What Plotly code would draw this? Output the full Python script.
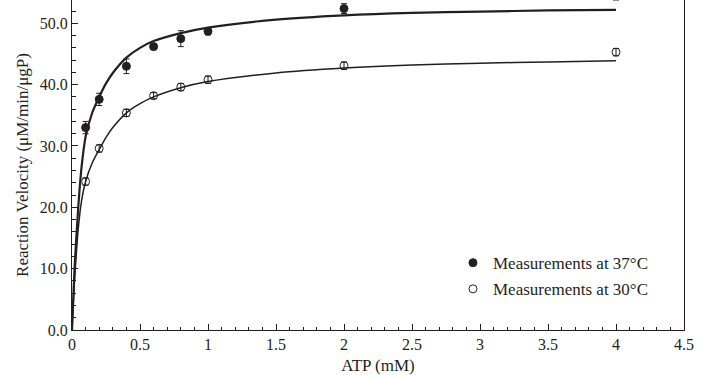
import plotly.graph_objects as go

# Measured points (ATP mM) and reaction velocity
atp_points = [0.1, 0.2, 0.4, 0.6, 0.8, 1.0, 2.0, 4.0]
v37 = [33.0, 37.6, 43.0, 46.2, 47.5, 48.7, 52.4, 54.6]
v37_err = [1.0, 1.0, 1.2, 0.5, 1.3, 0.6, 0.8, 0.8]
v30 = [24.2, 29.6, 35.4, 38.2, 39.6, 40.8, 43.1, 45.3]
v30_err = [0.6, 0.6, 0.6, 0.5, 0.6, 0.6, 0.6, 0.6]

# Fitted curves
fit_atp = [0, 0.02, 0.046, 0.07, 0.1, 0.15, 0.2, 0.25, 0.3, 0.4, 0.5, 0.6, 0.8, 1.0, 1.5, 2.0, 2.5, 3.0, 3.5, 4.0]
fit37 = [0, 10.5, 20.0, 26.5, 31.5, 35.5, 38.0, 40.2, 41.9, 44.4, 46.0, 47.1, 48.4, 49.3, 50.6, 51.3, 51.7, 51.9, 52.1, 52.2]
fit30 = [0, 8.5, 16.5, 21.0, 24.2, 27.3, 29.4, 31.4, 33.0, 35.4, 36.9, 38.0, 39.5, 40.5, 41.9, 42.7, 43.2, 43.5, 43.7, 43.9]

x_ticks = [0, 0.5, 1, 1.5, 2, 2.5, 3, 3.5, 4, 4.5]
y_ticks = [0, 10, 20, 30, 40, 50]

FONT = "Liberation Serif"
INK = "#231f20"

fig = go.Figure()
fig.add_trace(go.Scatter(x=fit_atp, y=fit37, mode="lines", line=dict(color=INK, width=2.2, shape="spline", smoothing=0.8),
                         showlegend=False, hoverinfo="skip"))
fig.add_trace(go.Scatter(x=fit_atp, y=fit30, mode="lines", line=dict(color=INK, width=1.5, shape="spline", smoothing=0.8),
                         showlegend=False, hoverinfo="skip"))
fig.add_trace(go.Scatter(x=atp_points, y=v37, mode="markers", name="Measurements at 37°C", legendgroup="a",
                         marker=dict(symbol="circle", size=8, color=INK, line=dict(color=INK, width=1)),
                         error_y=dict(type="data", array=v37_err, color=INK, thickness=1, width=3)))
fig.add_trace(go.Scatter(x=atp_points, y=v30, mode="markers", name="Measurements at 30°C", legendgroup="b",
                         marker=dict(symbol="circle-open", size=8, color=INK, line=dict(color=INK, width=1)),
                         error_y=dict(type="data", array=v30_err, color=INK, thickness=1, width=3)))

axis_common = dict(showgrid=False, zeroline=False, showline=True, linecolor=INK, linewidth=1,
                   ticks="inside", tickcolor=INK, tickwidth=1,
                   tickfont=dict(family=FONT, size=16, color=INK))

fig.update_xaxes(range=[0, 4.5], tickvals=x_ticks, ticklen=6,
                 minor=dict(dtick=0.1, ticks="inside", ticklen=3, tickcolor=INK),
                 title=dict(text="ATP (mM)", font=dict(family=FONT, size=17, color=INK), standoff=6),
                 mirror=False, **axis_common)
fig.update_yaxes(range=[0, 53.8], tickvals=y_ticks, tickformat=".1f", ticklen=6,
                 minor=dict(dtick=2, ticks="inside", ticklen=4, tickcolor=INK),
                 title=dict(text="Reaction Velocity (μM/min/μgP)", font=dict(family=FONT, size=17, color=INK), standoff=6),
                 mirror=True, **axis_common)

fig.update_layout(
    width=710, height=375,
    margin=dict(l=72, r=26, t=0, b=45),
    paper_bgcolor="white", plot_bgcolor="white",
    showlegend=True,
    legend=dict(x=0.6225, y=0.257, xanchor="left", yanchor="top", tracegroupgap=1,
                font=dict(family=FONT, size=17, color=INK), bgcolor="rgba(0,0,0,0)"),
)

fig.write_html("out.html", config={"displayModeBar": False},
               post_script="document.body.style.margin='0px';document.body.style.overflow='hidden';")
